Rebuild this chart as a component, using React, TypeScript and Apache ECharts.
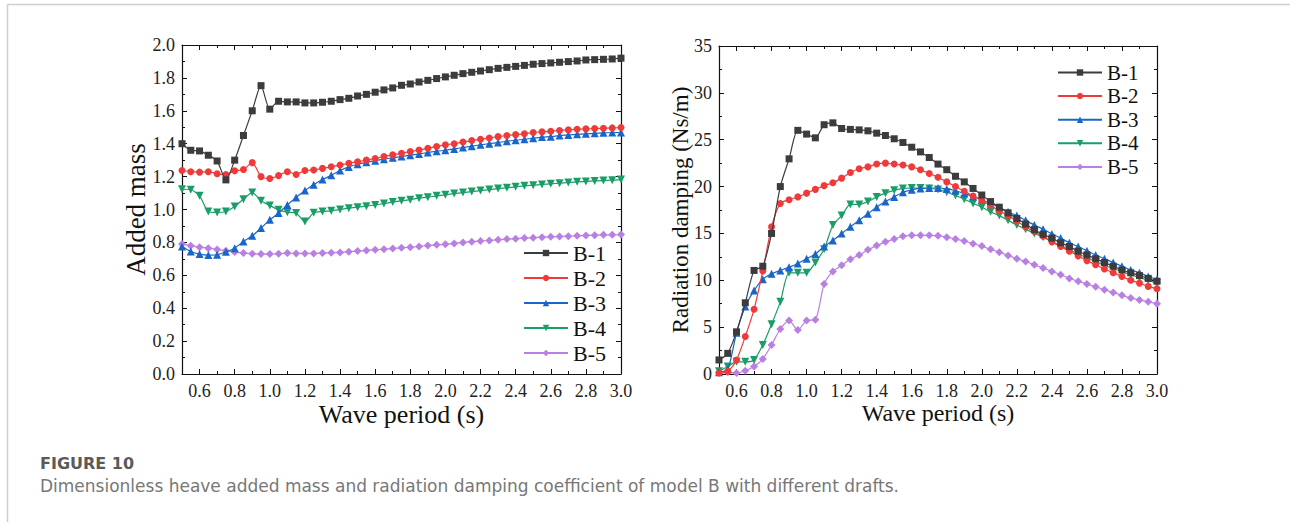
import React, { useEffect, useRef } from "react";
import * as echarts from "echarts";

const periods = [0.5, 0.55, 0.6, 0.65, 0.7, 0.75, 0.8, 0.85, 0.9, 0.95, 1.0, 1.05, 1.1, 1.15, 1.2, 1.25, 1.3, 1.35, 1.4, 1.45, 1.5, 1.55, 1.6, 1.65, 1.7, 1.75, 1.8, 1.85, 1.9, 1.95, 2.0, 2.05, 2.1, 2.15, 2.2, 2.25, 2.3, 2.35, 2.4, 2.45, 2.5, 2.55, 2.6, 2.65, 2.7, 2.75, 2.8, 2.85, 2.9, 2.95, 3.0];

const seriesNames = ["B-1", "B-2", "B-3", "B-4", "B-5"];

const addedB1 = [1.40, 1.36, 1.356, 1.33, 1.295, 1.18, 1.30, 1.45, 1.60, 1.753, 1.61, 1.658, 1.654, 1.654, 1.648, 1.648, 1.652, 1.658, 1.668, 1.676, 1.69, 1.70, 1.713, 1.727, 1.739, 1.755, 1.763, 1.775, 1.785, 1.796, 1.806, 1.816, 1.826, 1.834, 1.842, 1.85, 1.858, 1.864, 1.87, 1.876, 1.883, 1.887, 1.891, 1.895, 1.899, 1.903, 1.909, 1.911, 1.913, 1.915, 1.92];
const addedB2 = [1.237, 1.23, 1.227, 1.23, 1.217, 1.213, 1.235, 1.243, 1.285, 1.20, 1.188, 1.206, 1.23, 1.213, 1.237, 1.24, 1.25, 1.26, 1.27, 1.281, 1.29, 1.30, 1.31, 1.322, 1.332, 1.342, 1.352, 1.362, 1.372, 1.383, 1.393, 1.40, 1.41, 1.419, 1.427, 1.435, 1.443, 1.45, 1.455, 1.46, 1.468, 1.472, 1.476, 1.48, 1.484, 1.488, 1.49, 1.492, 1.494, 1.496, 1.498];
const addedB3 = [0.775, 0.745, 0.729, 0.723, 0.725, 0.743, 0.765, 0.806, 0.84, 0.887, 0.937, 0.978, 1.028, 1.073, 1.115, 1.15, 1.182, 1.208, 1.237, 1.259, 1.275, 1.287, 1.297, 1.306, 1.314, 1.322, 1.33, 1.338, 1.346, 1.354, 1.36, 1.368, 1.377, 1.385, 1.393, 1.40, 1.407, 1.415, 1.421, 1.427, 1.433, 1.44, 1.443, 1.45, 1.453, 1.457, 1.46, 1.463, 1.466, 1.468, 1.468];
const addedB4 = [1.123, 1.12, 1.083, 0.988, 0.982, 0.988, 1.018, 1.063, 1.103, 1.053, 1.024, 0.998, 0.984, 0.978, 0.927, 0.98, 0.988, 0.992, 1.0, 1.008, 1.014, 1.02, 1.028, 1.036, 1.045, 1.053, 1.06, 1.069, 1.075, 1.083, 1.089, 1.097, 1.103, 1.109, 1.115, 1.121, 1.127, 1.132, 1.138, 1.144, 1.148, 1.152, 1.156, 1.16, 1.164, 1.168, 1.17, 1.174, 1.176, 1.178, 1.182];
const addedB5 = [0.79, 0.78, 0.771, 0.765, 0.757, 0.749, 0.741, 0.735, 0.731, 0.729, 0.729, 0.731, 0.735, 0.733, 0.733, 0.733, 0.735, 0.737, 0.739, 0.743, 0.747, 0.751, 0.755, 0.759, 0.763, 0.767, 0.771, 0.775, 0.781, 0.785, 0.789, 0.794, 0.80, 0.804, 0.808, 0.812, 0.816, 0.82, 0.822, 0.826, 0.828, 0.832, 0.834, 0.836, 0.838, 0.84, 0.842, 0.844, 0.846, 0.846, 0.848];

const dampB1 = [1.5, 2.2, 4.5, 7.6, 11.05, 11.5, 15.0, 20.0, 22.96, 26.0, 25.6, 25.2, 26.6, 26.8, 26.2, 26.1, 26.05, 25.95, 25.7, 25.45, 25.1, 24.7, 24.2, 23.7, 23.1, 22.4, 21.8, 21.1, 20.5, 19.8, 19.1, 18.4, 17.8, 17.2, 16.6, 16.0, 15.4, 14.9, 14.5, 14.0, 13.6, 13.1, 12.7, 12.3, 11.9, 11.5, 11.1, 10.8, 10.5, 10.2, 9.9];
const dampB2 = [0.1, 0.3, 1.5, 4.0, 6.9, 11.0, 15.7, 18.2, 18.6, 18.9, 19.3, 19.7, 20.1, 20.4, 20.9, 21.5, 21.9, 22.1, 22.4, 22.5, 22.4, 22.3, 22.1, 21.8, 21.4, 21.0, 20.5, 20.0, 19.5, 19.0, 18.5, 18.0, 17.4, 16.9, 16.3, 15.7, 15.2, 14.7, 14.1, 13.6, 13.1, 12.6, 12.1, 11.65, 11.2, 10.8, 10.4, 10.0, 9.7, 9.35, 9.1];
const dampB3 = [0.2, 0.5, 4.4, 7.2, 8.9, 10.1, 10.7, 11.05, 11.4, 11.8, 12.3, 12.8, 13.6, 14.25, 15.0, 15.7, 16.4, 17.1, 17.8, 18.4, 18.9, 19.4, 19.65, 19.8, 19.85, 19.85, 19.75, 19.55, 19.25, 18.95, 18.6, 18.2, 17.8, 17.3, 16.9, 16.4, 15.9, 15.45, 14.95, 14.5, 14.0, 13.6, 13.15, 12.7, 12.3, 11.9, 11.5, 11.1, 10.8, 10.4, 10.1];
const dampB4 = [0.3, 0.8, 1.3, 1.3, 1.5, 3.1, 5.3, 7.7, 10.8, 10.8, 10.8, 11.9, 13.3, 15.9, 16.9, 18.1, 18.1, 18.4, 18.9, 19.3, 19.6, 19.8, 19.85, 19.85, 19.8, 19.7, 19.4, 19.05, 18.65, 18.2, 17.8, 17.3, 16.9, 16.4, 15.9, 15.45, 15.0, 14.6, 14.1, 13.7, 13.25, 12.8, 12.4, 12.0, 11.6, 11.25, 10.9, 10.6, 10.3, 10.0, 9.7];
const dampB5 = [0.2, 0.2, 0.1, 0.35, 0.8, 1.6, 3.1, 4.8, 5.7, 4.7, 5.7, 5.8, 9.6, 10.95, 11.6, 12.25, 12.7, 13.25, 13.7, 14.1, 14.4, 14.7, 14.8, 14.8, 14.8, 14.75, 14.6, 14.4, 14.2, 13.9, 13.65, 13.3, 13.0, 12.65, 12.3, 12.0, 11.65, 11.3, 10.95, 10.6, 10.2, 9.9, 9.6, 9.3, 9.0, 8.7, 8.4, 8.1, 7.9, 7.7, 7.5];

const xMajorTicks = [0.6, 0.8, 1.0, 1.2, 1.4, 1.6, 1.8, 2.0, 2.2, 2.4, 2.6, 2.8, 3.0];
const xMinorTicks = [0.5, 0.7, 0.9, 1.1, 1.3, 1.5, 1.7, 1.9, 2.1, 2.3, 2.5, 2.7, 2.9];

const colors = ["#3c3c3c", "#f03a3a", "#1a66c8", "#1a9e68", "#b97fe2"];
const symbols = ["rect", "circle", "triangle", "triangle", "diamond"];
const symbolRotates = [0, 0, 0, 180, 0];
const symbolSizes = [7, 7, 8, 8, 8];

const SERIF = "Liberation Serif";
const SANS = "DejaVu Sans";

export default function App() {
  const ref = useRef<HTMLDivElement>(null);
  useEffect(() => {
    if (!ref.current) return;
    const chart = echarts.init(ref.current, null, { renderer: "svg" });
    const leftData = [addedB1, addedB2, addedB3, addedB4, addedB5];
    const rightData = [dampB1, dampB2, dampB3, dampB4, dampB5];

    const grids = [
      { left: 182, top: 45, width: 439, height: 329 },
      { left: 719, top: 46, width: 438, height: 328 },
    ];

    const axisLine = { show: true, lineStyle: { color: "#111", width: 1.2 } };
    const labelStyle = { fontFamily: SERIF, fontSize: 18, color: "#222" };
    const xAxes: any[] = [];
    const yAxes: any[] = [];
    const xNameFont = [26, 24];
    [0, 1].forEach((g) => {
      xAxes.push({
        type: "value", gridIndex: g, position: "bottom", min: 0.5, max: 3.0,
        axisLine,
        axisTick: { show: true, inside: true, length: 5, customValues: xMajorTicks, lineStyle: { color: "#111" } },
        axisLabel: { show: true, customValues: xMajorTicks, margin: 8, ...labelStyle,
          formatter: (v: number) => v.toFixed(1) },
        splitLine: { show: false },
        name: "Wave period (s)", nameLocation: "middle", nameGap: 27,
        nameMoveOverlap: false,
        nameTextStyle: { fontFamily: SERIF, fontSize: xNameFont[g], color: "#111" },
      });
      xAxes.push({
        type: "value", gridIndex: g, position: "bottom", min: 0.5, max: 3.0,
        axisLine: { show: false },
        axisTick: { show: true, inside: true, length: 3, customValues: xMinorTicks, lineStyle: { color: "#111" } },
        axisLabel: { show: false }, splitLine: { show: false },
      });
      xAxes.push({
        type: "value", gridIndex: g, position: "top", min: 0.5, max: 3.0,
        axisLine,
        axisTick: { show: true, inside: true, length: 5, customValues: xMajorTicks, lineStyle: { color: "#111" } },
        axisLabel: { show: false }, splitLine: { show: false },
      });
      xAxes.push({
        type: "value", gridIndex: g, position: "top", min: 0.5, max: 3.0,
        axisLine: { show: false },
        axisTick: { show: true, inside: true, length: 3, customValues: xMinorTicks, lineStyle: { color: "#111" } },
        axisLabel: { show: false }, splitLine: { show: false },
      });
      const yMax = g === 0 ? 2.0 : 35;
      const yInt = g === 0 ? 0.2 : 5;
      yAxes.push({
        type: "value", gridIndex: g, position: "left", min: 0, max: yMax, interval: yInt,
        axisLine,
        axisTick: { show: true, inside: true, length: 5, lineStyle: { color: "#111" } },
        minorTick: { show: true, splitNumber: 2, length: 3, lineStyle: { color: "#111" } },
        axisLabel: { show: true, margin: 7, ...labelStyle,
          formatter: (v: number) => (g === 0 ? v.toFixed(1) : String(v)) },
        splitLine: { show: false },
        name: g === 0 ? "Added mass" : "Radiation damping (Ns/m)",
        nameLocation: "middle", nameGap: g === 0 ? 33 : 27,
        nameMoveOverlap: false,
        nameTextStyle: { fontFamily: SERIF, fontSize: g === 0 ? 27 : 23, color: "#111" },
      });
      yAxes.push({
        type: "value", gridIndex: g, position: "right", min: 0, max: yMax, interval: yInt,
        axisLine,
        axisTick: { show: true, inside: true, length: 5, lineStyle: { color: "#111" } },
        minorTick: { show: true, splitNumber: 2, length: 3, lineStyle: { color: "#111" } },
        axisLabel: { show: false }, splitLine: { show: false },
      });
    });

    const series: any[] = [];
    [leftData, rightData].forEach((set, g) => {
      set.forEach((vals, i) => {
        series.push({
          type: "line", name: seriesNames[i], xAxisIndex: g * 4, yAxisIndex: g * 2,
          data: periods.map((p, k) => [p, vals[k]]),
          smooth: 0.25,
          symbol: symbols[i], symbolRotate: symbolRotates[i], symbolSize: symbolSizes[i],
          lineStyle: { color: colors[i], width: 1.2 },
          itemStyle: { color: colors[i] },
          z: 10 - i,
        });
      });
    });

    chart.setOption({
      animation: false,
      textStyle: { fontFamily: SERIF },
      grid: grids,
      xAxis: xAxes,
      yAxis: yAxes,
      series,
      legend: [
        { orient: "vertical", itemWidth: 44, itemHeight: 8, data: seriesNames, selectedMode: false,
          left: 523, top: 242, itemGap: 3, padding: 0,
          textStyle: { fontFamily: SERIF, fontSize: 22, lineHeight: 22, color: "#111" } },
        { orient: "vertical", itemWidth: 44, itemHeight: 8, data: seriesNames, selectedMode: false,
          left: 1057, top: 62, itemGap: 2.6, padding: 0,
          textStyle: { fontFamily: SERIF, fontSize: 21, lineHeight: 21, color: "#111" } },
      ],
      graphic: [
        { type: "line", shape: { x1: 7.5, y1: 4.5, x2: 1290, y2: 4.5 }, style: { stroke: "#cfcfcf", lineWidth: 1.5 } },
        { type: "line", shape: { x1: 7.5, y1: 4.5, x2: 7.5, y2: 522 }, style: { stroke: "#cfcfcf", lineWidth: 1.5 } },
        { type: "text", left: 40, top: 455, style: { text: "FIGURE 10", fontFamily: SANS, fontSize: 16, fontWeight: "bold", fill: "#5a5a5a" } },
        { type: "text", left: 40, top: 477, style: { text: "Dimensionless heave added mass and radiation damping coefficient of model B with different drafts.", fontFamily: SANS, fontSize: 17, fontWeight: "normal", fill: "#777777" } },
      ],
    });
    return () => chart.dispose();
  }, []);
  return <div ref={ref} style={{ position: "absolute", left: 0, top: 0, width: 1290, height: 522 }} />;
}
